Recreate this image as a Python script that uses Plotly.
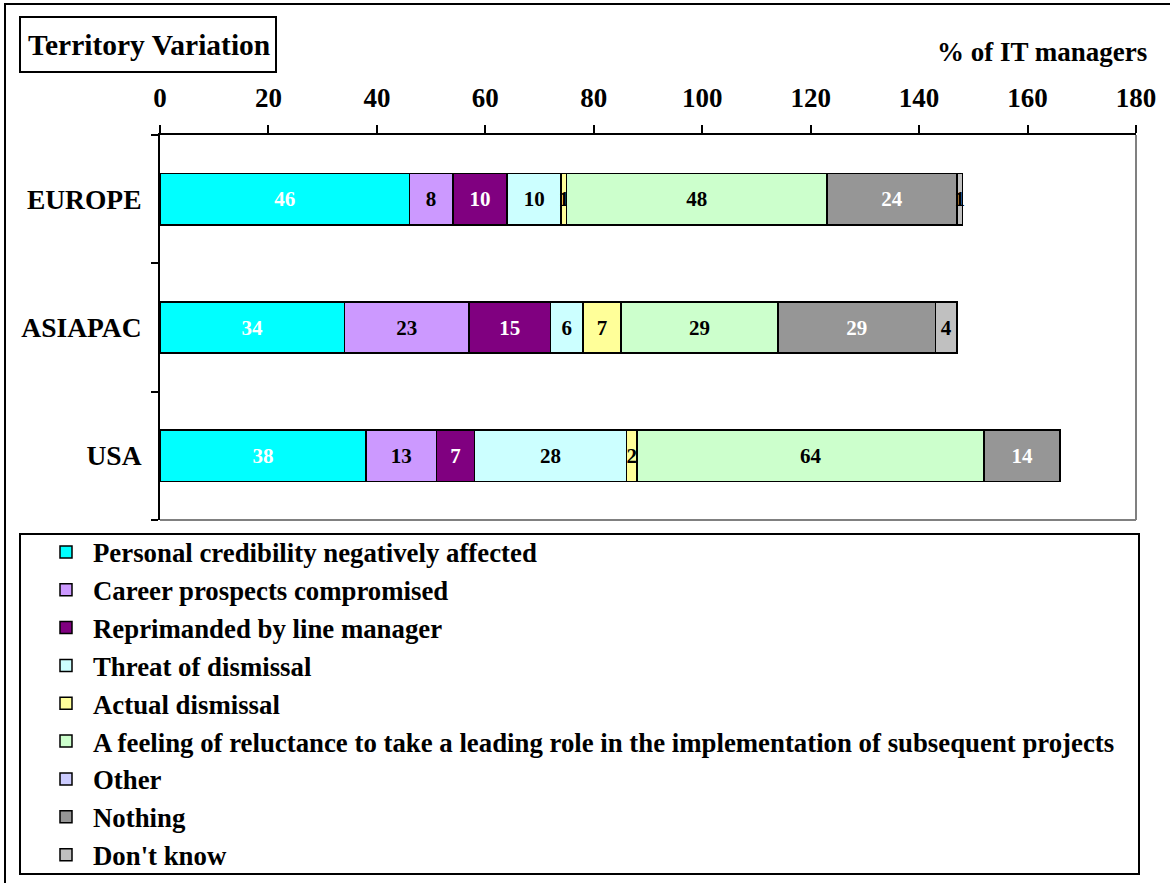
import plotly.graph_objects as go

territories = ["EUROPE", "ASIAPAC", "USA"]
series_names = [
    "Personal credibility negatively affected",
    "Career prospects compromised",
    "Reprimanded by line manager",
    "Threat of dismissal",
    "Actual dismissal",
    "A feeling of reluctance to take a leading role in the implementation of subsequent projects",
    "Other",
    "Nothing",
    "Don't know",
]
personal = [46, 34, 38]
career = [8, 23, 13]
reprimanded = [10, 15, 7]
threat = [10, 6, 28]
actual = [1, 7, 2]
reluctance = [48, 29, 64]
other = [0, 0, 0]
nothing = [24, 29, 14]
dont_know = [1, 4, 0]
x_ticks = [0, 20, 40, 60, 80, 100, 120, 140, 160, 180]

values = [personal, career, reprimanded, threat, actual, reluctance, other, nothing, dont_know]
colors = ["#00FFFF", "#CC99FF", "#800080", "#CCFFFF", "#FFFF99", "#CCFFCC", "#CCCCFF", "#969696", "#C0C0C0"]
label_colors = ["white", "black", "white", "black", "black", "black", "black", "white", "black"]

FONT = "Liberation Serif, Times New Roman, serif"
W, H = 1170, 883
L, R, T, B = 160, 1136, 135, 520


def px(xp):
    return (xp - L) / (R - L)


def py(yp):
    return (B - yp) / (B - T)


fig = go.Figure()
for i, (name, vals) in enumerate(zip(series_names, values)):
    fig.add_trace(go.Bar(
        name=name,
        y=territories,
        x=vals,
        orientation="h",
        marker=dict(color=colors[i], line=dict(color="black", width=1.5)),
        text=[str(v) if v else "" for v in vals],
        textposition="inside",
        insidetextanchor="middle",
        textfont=dict(family=FONT, size=21, color=label_colors[i], weight="bold"),
        hoverinfo="x+name",
    ))

shapes = [
    # outer border
    dict(type="rect", xref="paper", yref="paper", x0=px(5), x1=px(1190), y0=py(4), y1=py(910),
         line=dict(color="black", width=2)),
    # title box
    dict(type="rect", xref="paper", yref="paper", x0=px(20), x1=px(276), y0=py(17), y1=py(72),
         line=dict(color="black", width=2)),
    # plot right/bottom border (gray)
    dict(type="line", xref="paper", yref="paper", x0=1, x1=1, y0=0, y1=1,
         line=dict(color="#808080", width=2)),
    dict(type="line", xref="paper", yref="paper", x0=0, x1=1, y0=0, y1=0,
         line=dict(color="#808080", width=2)),
    # legend box
    dict(type="rect", xref="paper", yref="paper", x0=px(20), x1=px(1139), y0=py(534), y1=py(874),
         line=dict(color="black", width=2)),
]

annotations = [
    dict(text="<b>Territory Variation</b>", xref="paper", yref="paper", x=px(149), y=py(45),
         xanchor="center", yanchor="middle", showarrow=False,
         font=dict(family=FONT, size=29.5, color="black")),
    dict(text="<b>% of IT managers</b>", xref="paper", yref="paper", x=px(1149), y=py(52),
         xanchor="right", yanchor="middle", showarrow=False,
         font=dict(family=FONT, size=27, color="black")),
]

fig.update_layout(
    width=W, height=H,
    margin=dict(l=L, r=W - R, t=T, b=H - B, pad=0, autoexpand=False),
    barmode="stack",
    bargap=0.6,
    plot_bgcolor="white",
    paper_bgcolor="white",
    font=dict(family=FONT, color="black"),
    showlegend=True,
    legend=dict(
        x=px(39), y=py(528), xanchor="left", yanchor="top",
        traceorder="normal",
        font=dict(family=FONT, size=26.8, color="black", weight="bold"),
        bgcolor="rgba(0,0,0,0)", borderwidth=0,
        itemwidth=44,
    ),
    uniformtext=dict(minsize=21, mode="show"),
    xaxis=dict(
        side="top", range=[0, 180], tickvals=x_ticks,
        ticks="outside", ticklen=8, tickwidth=2, tickcolor="black",
        showline=True, linecolor="black", linewidth=2,
        showgrid=False, zeroline=False,
        tickfont=dict(family=FONT, size=27, color="black", weight="bold"),
        ticklabelstandoff=7,
    ),
    yaxis=dict(
        type="category", categoryorder="array", categoryarray=territories[::-1],
        tickson="boundaries", ticks="outside", ticklen=7, tickwidth=2, tickcolor="black",
        showline=True, linecolor="black", linewidth=2,
        showgrid=False, zeroline=False,
        tickfont=dict(family=FONT, size=27.5, color="black", weight="bold"),
        ticklabelstandoff=11,
    ),
    shapes=shapes,
    annotations=annotations,
)

fig.write_html("out.html")
